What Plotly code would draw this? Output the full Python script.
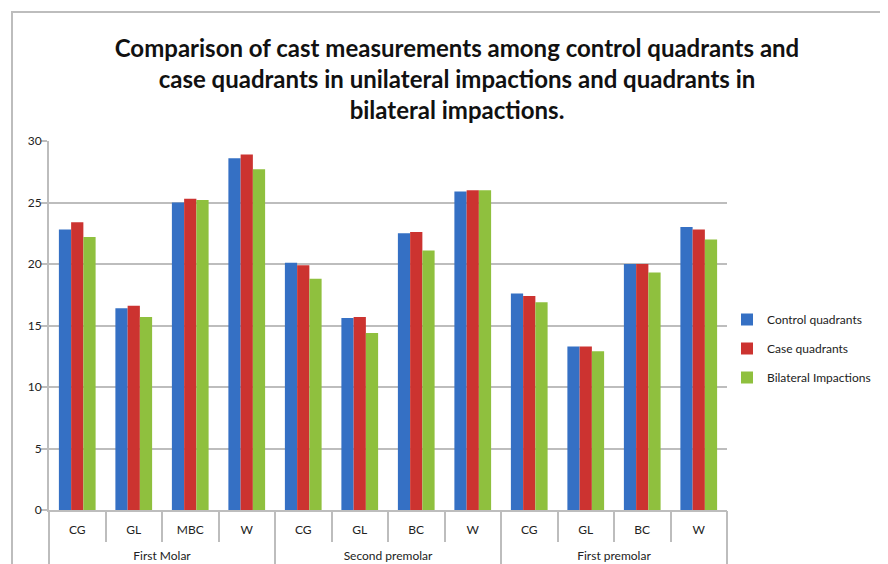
import plotly.graph_objects as go

groups = ["First Molar"] * 4 + ["Second premolar"] * 4 + ["First premolar"] * 4
# zero-width spaces keep each group's sub-labels distinct (same visible text)
subcats = ["CG", "GL", "MBC", "W",
           "CG\u200b", "GL\u200b", "BC", "W\u200b",
           "CG\u200b\u200b", "GL\u200b\u200b", "BC\u200b", "W\u200b\u200b"]

control = [22.8, 16.4, 25.0, 28.6, 20.1, 15.6, 22.5, 25.9, 17.6, 13.3, 20.0, 23.0]
case = [23.4, 16.6, 25.3, 28.9, 19.9, 15.7, 22.6, 26.0, 17.4, 13.3, 20.0, 22.8]
bilateral = [22.2, 15.7, 25.2, 27.7, 18.8, 14.4, 21.1, 26.0, 16.9, 12.9, 19.3, 22.0]

series = [
    ("Control quadrants", control, "#3570C4"),
    ("Case quadrants", case, "#CC3330"),
    ("Bilateral Impactions", bilateral, "#8FC03E"),
]

group_names = list(dict.fromkeys(groups))

fig = go.Figure()
for name, vals, col in series:
    fig.add_trace(go.Bar(x=subcats, y=vals, name=name, legendgroup=name,
                         marker=dict(color=col, line=dict(width=0))))
# invisible carrier for the group-label axis
fig.add_trace(go.Scatter(x=group_names, y=[0] * len(group_names), xaxis="x2", yaxis="y",
                         mode="markers", marker=dict(opacity=0, size=1),
                         showlegend=False, hoverinfo="skip"))

OFF = 8  # browser default body margin
W, H = 888 - OFF, 564 - OFF
L, R, T, B = 49 - OFF, 727 - OFF, 141 - OFF, 510 - OFF
pw, ph = R - L, B - T

def px(x):
    return (x - OFF - L) / pw

def py(y):
    return (B - (y - OFF)) / ph

GRID = "#BDBDBD"
fig.update_layout(
    width=W, height=H,
    margin=dict(l=L, r=W - R, t=T, b=H - B, pad=0, autoexpand=False),
    paper_bgcolor="white", plot_bgcolor="white",
    barmode="group", bargap=0.35, bargroupgap=0,
    font=dict(family="Lato, Open Sans, sans-serif", size=12, color="#222222"),
    title=dict(
        text="<b>Comparison of cast measurements among control quadrants and<br>case quadrants in unilateral impactions and quadrants in<br>bilateral impactions.</b>",
        x=(457 - OFF) / W, xanchor="center", xref="container",
        y=1 - (57 - OFF) / H, yanchor="middle", yref="container",
        font=dict(size=24, color="#111111", family="Lato, Open Sans, sans-serif"),
    ),
    legend=dict(x=px(727), y=py(305), xanchor="left", yanchor="top",
                font=dict(size=12, color="#222222"), itemwidth=30,
                tracegroupgap=10, bgcolor="rgba(0,0,0,0)"),
    showlegend=True,
    xaxis=dict(type="category", showline=True, linecolor=GRID, linewidth=2,
               ticks="outside", tickson="boundaries", ticklen=30, tickcolor=GRID,
               tickwidth=2, ticklabelstandoff=8, tickfont=dict(size=12),
               showgrid=False, automargin=False),
    xaxis2=dict(type="category", overlaying="x", side="bottom", anchor="y",
                categoryorder="array", categoryarray=group_names,
                range=[-0.5, len(group_names) - 0.5],
                showline=False, ticks="outside", tickson="boundaries", ticklen=60,
                tickcolor=GRID, tickwidth=2, ticklabelstandoff=37,
                tickfont=dict(size=12), showgrid=False, zeroline=False,
                automargin=False),
    yaxis=dict(range=[0, 30], dtick=5, showgrid=True, gridcolor=GRID, gridwidth=2,
               showline=True, linecolor=GRID, linewidth=2, ticks="outside",
               ticklen=6, tickcolor=GRID, tickwidth=2, tickfont=dict(size=12),
               ticklabelstandoff=-3, zeroline=False, automargin=False),
)

# outer chart frame
fig.add_shape(type="rect", xref="paper", yref="paper",
              x0=px(12), x1=px(900), y0=py(580), y1=py(12),
              line=dict(color=GRID, width=2), fillcolor="rgba(0,0,0,0)", layer="below")

fig.write_html("out.html")
